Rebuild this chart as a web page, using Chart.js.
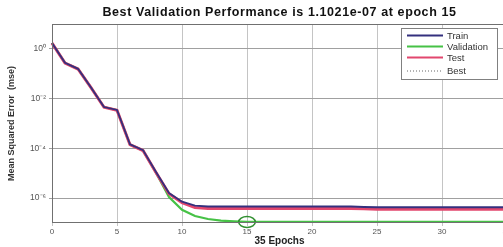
<!DOCTYPE html>
<html>
<head>
<meta charset="utf-8">
<script src="https://cdn.jsdelivr.net/npm/chart.js@4.4.1/dist/chart.umd.min.js"></script>
<style>
  html, body { margin: 0; padding: 0; overflow: hidden; background: #fff; }
  #wrap { width: 520px; height: 247px; }
</style>
</head>
<body>
<div id="wrap"><canvas id="perfChart" width="520" height="247"></canvas></div>
<script>
// values
const epochs = [0, 1, 2, 3, 4, 5, 6, 7, 8, 9, 10, 11, 12, 13, 14, 15, 16, 17,
  18, 19, 20, 21, 22, 23, 24, 25, 26, 27, 28, 29, 30, 31, 32, 33, 34, 35];

const trainMse = [1.74, 0.275, 0.158, 0.0282, 4.6e-3, 3.5e-3, 1.45e-4, 8.5e-5, 1.12e-5,
  1.6e-6, 7.2e-7, 5.0e-7, 4.6e-7, 4.6e-7, 4.6e-7, 4.6e-7, 4.6e-7, 4.6e-7, 4.6e-7,
  4.6e-7, 4.6e-7, 4.6e-7, 4.6e-7, 4.6e-7, 4.4e-7, 4.3e-7, 4.3e-7, 4.3e-7, 4.3e-7,
  4.3e-7, 4.3e-7, 4.3e-7, 4.3e-7, 4.3e-7, 4.3e-7, 4.3e-7];

const validationMse = [1.72, 0.272, 0.156, 0.0279, 4.55e-3, 3.45e-3, 1.42e-4, 8.3e-5, 1.05e-5,
  1.1e-6, 3.4e-7, 1.9e-7, 1.45e-7, 1.25e-7, 1.16e-7, 1.1021e-7, 1.11e-7, 1.11e-7, 1.12e-7,
  1.12e-7, 1.12e-7, 1.12e-7, 1.12e-7, 1.12e-7, 1.12e-7, 1.12e-7, 1.12e-7, 1.12e-7, 1.12e-7,
  1.12e-7, 1.12e-7, 1.12e-7, 1.12e-7, 1.12e-7, 1.12e-7, 1.12e-7];

const testMse = [1.70, 0.27, 0.155, 0.0275, 4.5e-3, 3.4e-3, 1.4e-4, 8.2e-5, 1.08e-5,
  1.5e-6, 6.6e-7, 4.2e-7, 3.8e-7, 3.8e-7, 3.8e-7, 3.8e-7, 3.8e-7, 3.8e-7, 3.8e-7,
  3.8e-7, 3.8e-7, 3.8e-7, 3.8e-7, 3.8e-7, 3.7e-7, 3.6e-7, 3.6e-7, 3.6e-7, 3.6e-7,
  3.6e-7, 3.6e-7, 3.6e-7, 3.6e-7, 3.6e-7, 3.6e-7, 3.6e-7];

const bestEpoch = 15;
const bestMse = 1.1021e-7;

const yTickValues = [1e-6, 1e-4, 1e-2, 1];
const yTickLabels = ['10⁻⁶', '10⁻⁴', '10⁻²', '10⁰'];

const titleText = 'Best Validation Performance is 1.1021e-07 at epoch 15';

const colors = {
  train: '#34307e',
  validation: '#46c246',
  test: '#e2476e',
  best: '#666666'
};

const FONT = '"Liberation Sans", Arial, sans-serif';

const toPoints = (vals) => epochs.map((e, i) => ({ x: e, y: vals[i] }));

// hollow ellipse used as the marker for the best epoch
const bestMarker = document.createElement('canvas');
bestMarker.width = 20;
bestMarker.height = 14;
(() => {
  const c = bestMarker.getContext('2d');
  c.strokeStyle = '#2f8f2f';
  c.lineWidth = 1.6;
  c.beginPath();
  c.ellipse(10, 7, 8.3, 5.5, 0, 0, Math.PI * 2);
  c.stroke();
})();

// box around the axes, like the matlab frame, plus the title centred on the axes
const frame = {
  id: 'frame',
  afterDatasetsDraw(chart) {
    const a = chart.chartArea;
    const ctx = chart.ctx;
    ctx.save();
    ctx.strokeStyle = '#707070';
    ctx.lineWidth = 1;
    ctx.strokeRect(a.left + 0.5, a.top + 0.5, a.right - a.left - 1, a.bottom - a.top - 1);
    ctx.font = 'bold 12.5px ' + FONT;
    ctx.letterSpacing = '0.6px';
    ctx.fillStyle = '#111';
    ctx.textAlign = 'center';
    ctx.textBaseline = 'middle';
    ctx.fillText(titleText, (a.left + a.right) / 2, 13);
    ctx.restore();
  }
};

// legend box in the upper right corner of the axes
const boxLegend = {
  id: 'boxLegend',
  afterDraw(chart) {
    const ctx = chart.ctx;
    const x0 = 401, y0 = 28, w = 96, h = 51;
    ctx.save();
    ctx.fillStyle = '#fff';
    ctx.fillRect(x0, y0, w, h);
    ctx.strokeStyle = '#808080';
    ctx.lineWidth = 1;
    ctx.strokeRect(x0 + 0.5, y0 + 0.5, w, h);
    const rows = [
      { label: 'Train', color: colors.train, dash: [] },
      { label: 'Validation', color: colors.validation, dash: [] },
      { label: 'Test', color: colors.test, dash: [] },
      { label: 'Best', color: colors.best, dash: [1, 2] }
    ];
    const ys = [35.5, 46.5, 57.5, 71];
    ctx.font = '9.5px ' + FONT;
    ctx.textBaseline = 'middle';
    rows.forEach((r, i) => {
      ctx.beginPath();
      ctx.setLineDash(r.dash);
      ctx.strokeStyle = r.color;
      ctx.lineWidth = r.dash.length ? 1 : 2;
      ctx.moveTo(407, ys[i]);
      ctx.lineTo(443, ys[i]);
      ctx.stroke();
      ctx.setLineDash([]);
      ctx.fillStyle = '#333';
      ctx.fillText(r.label, 447, ys[i] + 0.5);
    });
    ctx.restore();
  }
};

const ctx = document.getElementById('perfChart').getContext('2d');
new Chart(ctx, {
  type: 'line',
  data: {
    datasets: [
      {
        label: 'Best',
        data: [{ x: bestEpoch, y: bestMse }],
        showLine: false,
        pointStyle: bestMarker,
        pointRadius: 8,
        order: 0,
        clip: 10
      },
      {
        label: 'Train',
        data: toPoints(trainMse),
        borderColor: colors.train,
        borderWidth: 1.8,
        pointRadius: 0,
        order: 1,
        clip: 4
      },
      {
        label: 'Validation',
        data: toPoints(validationMse),
        borderColor: colors.validation,
        borderWidth: 2.2,
        pointRadius: 0,
        order: 3,
        clip: 4
      },
      {
        label: 'Test',
        data: toPoints(testMse),
        borderColor: colors.test,
        borderWidth: 3,
        pointRadius: 0,
        order: 2,
        clip: 4
      }
    ]
  },
  options: {
    responsive: false,
    animation: false,
    layout: { padding: { left: 0, right: 13, top: 24, bottom: 0 } },
    scales: {
      x: {
        type: 'linear',
        min: 0,
        max: 35,
        afterFit: (s) => { s.height = 24; },
        border: { display: false },
        grid: { color: '#c4c4c4', tickLength: 3 },
        ticks: {
          stepSize: 5,
          padding: 1,
          color: '#555',
          font: { family: FONT, size: 8 }
        },
        title: {
          display: true,
          text: '35 Epochs',
          color: '#222',
          padding: { top: 0, bottom: 0 },
          font: { family: FONT, size: 10, weight: 'bold' }
        }
      },
      y: {
        type: 'logarithmic',
        min: 1e-7,
        max: 10,
        afterBuildTicks: (s) => { s.ticks = yTickValues.map(v => ({ value: v })); },
        afterFit: (s) => { s.width = 52; },
        border: { display: false },
        grid: { color: '#a0a0a0', borderDash: [2, 3], tickLength: 3 },
        ticks: {
          padding: 3,
          color: '#555',
          font: { family: FONT, size: 8.5 },
          callback: (v) => yTickLabels[yTickValues.indexOf(v)]
        },
        title: {
          display: true,
          text: 'Mean Squared Error  (mse)',
          color: '#333',
          padding: { top: 6, bottom: 0 },
          font: { family: FONT, size: 9, weight: 'bold' }
        }
      }
    },
    plugins: {
      legend: { display: false },
      tooltip: { enabled: false },
      title: { display: false }
    }
  },
  plugins: [frame, boxLegend]
});
</script>
</body>
</html>
